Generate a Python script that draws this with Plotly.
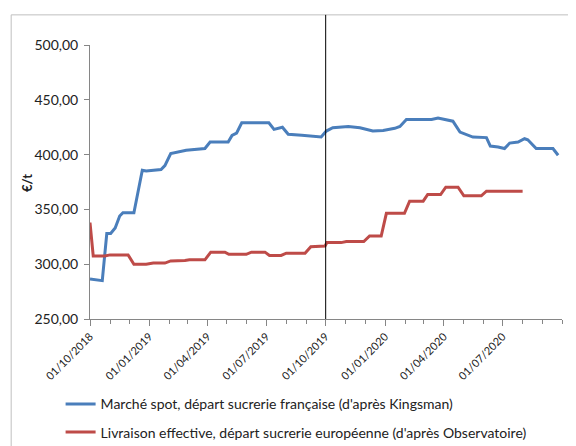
import plotly.graph_objects as go

spot_dates = [
    "2018-10-01", "2018-10-11", "2018-10-20", "2018-10-27", "2018-11-02", "2018-11-09",
    "2018-11-16", "2018-11-21", "2018-12-08", "2018-12-21", "2018-12-27", "2019-01-19",
    "2019-01-25", "2019-02-03", "2019-02-10", "2019-02-27", "2019-03-28", "2019-04-05",
    "2019-05-03", "2019-05-09", "2019-05-16", "2019-05-24", "2019-07-05", "2019-07-13",
    "2019-07-26", "2019-08-04", "2019-08-25", "2019-09-24", "2019-10-02", "2019-10-12",
    "2019-11-05", "2019-11-23", "2019-12-13", "2019-12-29", "2020-01-16", "2020-01-24",
    "2020-02-03", "2020-03-13", "2020-03-23", "2020-04-02", "2020-04-15", "2020-04-26",
    "2020-05-09", "2020-05-16", "2020-06-06", "2020-06-12", "2020-06-24", "2020-07-04",
    "2020-07-12", "2020-07-25", "2020-08-04", "2020-08-09", "2020-08-22", "2020-09-17",
    "2020-09-25",
]
spot_values = [
    286.5, 285.5, 285.0, 328.0, 328.0, 333.0,
    344.0, 347.0, 347.0, 385.7, 385.0, 386.4,
    390.0, 401.0, 402.0, 404.0, 405.6, 411.5,
    411.5, 417.5, 419.6, 429.0, 429.0, 423.0,
    425.0, 418.5, 417.6, 416.0, 421.5, 424.5,
    425.7, 424.5, 421.5, 422.0, 424.0, 425.7,
    432.0, 432.0, 433.4, 432.0, 430.5, 420.5,
    418.0, 416.0, 415.5, 407.8, 407.0, 405.5,
    410.5, 411.5, 414.5, 413.5, 405.5, 405.5,
    399.4,
]

eff_dates = [
    "2018-10-01", "2018-10-06", "2018-10-24", "2018-11-01", "2018-11-29", "2018-12-08",
    "2018-12-27", "2019-01-07", "2019-01-25", "2019-02-03", "2019-02-25", "2019-03-04",
    "2019-03-28", "2019-04-06", "2019-04-28", "2019-05-04", "2019-05-31", "2019-06-08",
    "2019-06-29", "2019-07-06", "2019-07-24", "2019-08-01", "2019-08-30", "2019-09-08",
    "2019-09-30", "2019-10-03", "2019-10-25", "2019-11-02", "2019-11-29", "2019-12-08",
    "2019-12-26", "2020-01-03", "2020-01-31", "2020-02-08", "2020-02-29", "2020-03-07",
    "2020-03-27", "2020-04-04", "2020-04-23", "2020-05-02", "2020-05-29", "2020-06-06",
    "2020-08-01",
]
eff_values = [
    338.0, 307.5, 307.5, 308.5, 308.5, 300.0,
    300.0, 301.0, 301.0, 303.0, 303.3, 304.0,
    304.0, 311.0, 311.0, 309.0, 309.0, 311.0,
    311.0, 308.0, 308.0, 310.0, 310.0, 316.0,
    316.6, 319.7, 319.7, 320.6, 320.6, 325.7,
    325.7, 346.4, 346.4, 357.5, 357.5, 363.6,
    363.6, 370.3, 370.3, 362.4, 362.4, 366.6,
    366.6,
]

series_names = [
    "Marché spot, départ sucrerie française (d'après Kingsman)",
    "Livraison effective, départ sucrerie européenne (d'après Observatoire)",
]
x_tick_dates = ["2018-10-01", "2019-01-01", "2019-04-01", "2019-07-01",
                "2019-10-01", "2020-01-01", "2020-04-01", "2020-07-01"]
x_tick_labels = ["01/10/2018", "01/01/2019", "01/04/2019", "01/07/2019",
                 "01/10/2019", "01/01/2020", "01/04/2020", "01/07/2020"]
y_ticks = [250, 300, 350, 400, 450, 500]
y_tick_labels = ["250,00", "300,00", "350,00", "400,00", "450,00", "500,00"]
y_title = "€/t"
marker_date = "2019-10-01"

FONT = "Lato, 'Open Sans', sans-serif"
TXT = "#222222"
AX = "#868686"

fig = go.Figure()
fig.add_trace(go.Scatter(x=spot_dates, y=spot_values, mode="lines", name=series_names[0],
                         legendgroup="a", line=dict(color="#4A7EBB", width=3)))
fig.add_trace(go.Scatter(x=eff_dates, y=eff_values, mode="lines", name=series_names[1],
                         legendgroup="b", line=dict(color="#BE4B48", width=3)))

fig.add_shape(type="line", xref="x", yref="paper", x0=marker_date, x1=marker_date,
              y0=0, y1=1.11, line=dict(color="black", width=1))
# outer chart border
fig.add_shape(type="rect", xref="paper", yref="paper", x0=-0.167, x1=1.2, y0=-0.7, y1=1.11,
              line=dict(color="#BFBFBF", width=1), fillcolor="rgba(0,0,0,0)", layer="below")

fig.add_annotation(text="<b>" + y_title + "</b>", xref="paper", yref="paper",
                   x=-0.1335, y=0.496, xanchor="center", yanchor="middle",
                   showarrow=False, textangle=-90,
                   font=dict(size=13, family=FONT, color=TXT))

fig.update_layout(
    width=576, height=446,
    margin=dict(l=82, r=22, t=37, b=135, autoexpand=False),
    paper_bgcolor="white", plot_bgcolor="white",
    font=dict(family=FONT, size=13, color=TXT),
    showlegend=True,
    legend=dict(x=-0.0623, y=-0.253, xanchor="left", yanchor="top", orientation="v",
                font=dict(family=FONT, size=14, color=TXT),
                itemwidth=30, tracegroupgap=7, bgcolor="rgba(0,0,0,0)"),
    xaxis=dict(
        type="date", range=["2018-10-01", "2020-10-01"], automargin=False,
        tickmode="array", tickvals=x_tick_dates, ticktext=x_tick_labels, tickangle=-45,
        tickfont=dict(size=11, family=FONT, color=TXT),
        showgrid=False, zeroline=False, showline=True, linecolor=AX, linewidth=1,
        ticks="outside", ticklen=6, tickcolor=AX,
        minor=dict(dtick="M1", tick0="2018-10-01", ticks="outside", ticklen=4,
                   tickcolor=AX, showgrid=False),
    ),
    yaxis=dict(
        range=[250, 500], tickvals=y_ticks, ticktext=y_tick_labels, automargin=False,
        tickfont=dict(size=14, family=FONT, color=TXT),
        showgrid=False, zeroline=False, showline=True, linecolor=AX, linewidth=1,
        ticks="outside", ticklen=5, tickcolor=AX, ticklabelstandoff=3,
    ),
)

fig.write_html("out.html")
